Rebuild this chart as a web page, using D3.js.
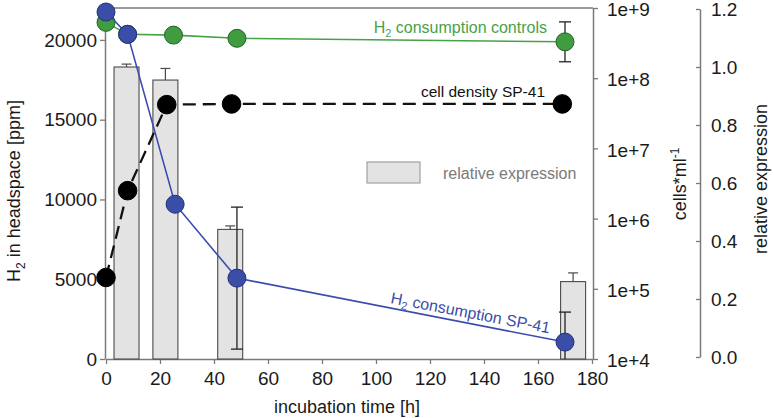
<!DOCTYPE html>
<html><head><meta charset="utf-8">
<script src="https://cdn.jsdelivr.net/npm/d3@7"></script>
<style>body{margin:0;background:#fff}svg{display:block;font-family:"Liberation Sans",Arial,sans-serif}</style>
</head><body><svg id="c" width="774" height="418"></svg>
<script>
// ---- data ----
const xTicks = [0,20,40,60,80,100,120,140,160,180];
const leftTicks = [0,5000,10000,15000,20000];
const logTicks = [1e4,1e5,1e6,1e7,1e8,1e9];
const relTicks = [0,0.2,0.4,0.6,0.8,1.0,1.2];

const timeCtrl = [0, 8, 25, 48.5, 170];
const h2Ctrl = [21100, 20350, 20300, 20100, 19880];
const h2CtrlErr = [0, 0, 0, 0, 1250];

const timeSP = [0, 8, 25.6, 48.5, 170];
const h2SP = [21750, 20350, 9700, 5070, 1060];
const h2SPErr = [0, 0, 0, 4450, 1880];

const timeCells = [0, 8, 22.5, 46.5, 169];
const cells = [1.45e5, 2.5e6, 4.2e7, 4.3e7, 4.3e7];

const timeBars = [7.6, 22, 46, 173];
const relExpr = [1.0, 0.955, 0.44, 0.26];
const relExprErr = [0.01, 0.04, 0.012, 0.03];

// ---- scales ----
const svg = d3.select("#c");
const x = d3.scaleLinear().domain([0,180]).range([106,592]);
const yL = d3.scaleLinear().domain([0,22000]).range([359,8]);
const yLog = d3.scaleLog().domain([1e4,1e9]).range([359,8]);
const yR = d3.scaleLinear().domain([0,1.2]).range([357,9]);

const axisCol = "#7a7a7a";
const tickFont = 19;

// frame top line
svg.append("line").attr("x1",x(0)-1).attr("x2",x(180)+1).attr("y1",yL(22000)).attr("y2",yL(22000))
  .attr("stroke",axisCol).attr("stroke-width",1.5);

function styleAxis(g){
  g.select(".domain").attr("stroke",axisCol).attr("stroke-width",1.5);
  g.selectAll(".tick line").attr("stroke",axisCol).attr("stroke-width",1.3);
  g.selectAll(".tick text").attr("fill","#1a1a1a").attr("font-size",tickFont).attr("font-family","Liberation Sans, Arial, sans-serif");
}

// axes
svg.append("g").attr("transform",`translate(${x(0)-1},0)`)
  .call(d3.axisLeft(yL).tickValues(leftTicks).tickSize(5).tickSizeOuter(0).tickPadding(3).tickFormat(d3.format("d")))
  .call(styleAxis);
svg.append("g").attr("transform",`translate(0,${yL(0)})`)
  .call(d3.axisBottom(x).tickValues(xTicks).tickSize(5).tickSizeOuter(0).tickPadding(8))
  .call(styleAxis);
const gLog = svg.append("g").attr("transform",`translate(${x(180)+1},0)`)
  .call(d3.axisRight(yLog).tickValues(logTicks).tickSize(5).tickSizeOuter(0).tickPadding(9)
     .tickFormat(d => "1e+" + Math.round(Math.log10(d))))
  .call(styleAxis);
gLog.selectAll(".tick text").attr("dy","0.4em");
svg.append("g").attr("transform",`translate(700,0)`)
  .call(d3.axisRight(yR).tickValues(relTicks).tickSize(-4).tickSizeOuter(0).tickPadding(11).tickFormat(d3.format(".1f")))
  .call(styleAxis);

// bars
const barW = 25;
const bars = svg.append("g");
bars.selectAll("rect").data(relExpr).join("rect")
  .attr("x",(d,i)=>x(timeBars[i])-barW/2).attr("width",barW)
  .attr("y",d=>yR(d)).attr("height",d=>yR(0)-yR(d)+2)
  .attr("fill","#e3e3e3").attr("stroke","#4a4a4a").attr("stroke-width",1.1);
// bar error bars (upper only)
relExpr.forEach((d,i)=>{
  const cx = x(timeBars[i]);
  bars.append("line").attr("x1",cx).attr("x2",cx).attr("y1",yR(d)).attr("y2",yR(d+relExprErr[i])).attr("stroke","#4a4a4a").attr("stroke-width",1.2);
  bars.append("line").attr("x1",cx-5).attr("x2",cx+5).attr("y1",yR(d+relExprErr[i])).attr("y2",yR(d+relExprErr[i])).attr("stroke","#4a4a4a").attr("stroke-width",1.2);
});

// error bar helper
function errBars(g, times, vals, errs, ys){
  vals.forEach((v,i)=>{
    if(!errs[i]) return;
    const cx = x(times[i]);
    const hi = v+errs[i], lo = Math.max(0, v-errs[i]);
    g.append("line").attr("x1",cx).attr("x2",cx).attr("y1",ys(hi)).attr("y2",ys(lo)).attr("stroke","#222").attr("stroke-width",1.3);
    g.append("line").attr("x1",cx-6).attr("x2",cx+6).attr("y1",ys(hi)).attr("y2",ys(hi)).attr("stroke","#222").attr("stroke-width",1.3);
    if (v-errs[i] > 0)
      g.append("line").attr("x1",cx-6).attr("x2",cx+6).attr("y1",ys(lo)).attr("y2",ys(lo)).attr("stroke","#222").attr("stroke-width",1.3);
  });
}

// cell density (black dashed, log axis)
const gC = svg.append("g");
gC.append("path").datum(cells)
  .attr("d", d3.line().x((d,i)=>x(timeCells[i])).y(d=>yLog(d)))
  .attr("fill","none").attr("stroke","#111").attr("stroke-width",2.3).attr("stroke-dasharray","13,7");
gC.selectAll("circle").data(cells).join("circle")
  .attr("cx",(d,i)=>x(timeCells[i])).attr("cy",d=>yLog(d)).attr("r",9.3)
  .attr("fill","#000").attr("stroke","#000");

// controls (green)
const gG = svg.append("g");
gG.append("path").datum(h2Ctrl)
  .attr("d", d3.line().x((d,i)=>x(timeCtrl[i])).y(d=>yL(d)))
  .attr("fill","none").attr("stroke","#45a345").attr("stroke-width",1.6);
errBars(gG, timeCtrl, h2Ctrl, h2CtrlErr, yL);
gG.selectAll("circle").data(h2Ctrl).join("circle")
  .attr("cx",(d,i)=>x(timeCtrl[i])).attr("cy",d=>yL(d)).attr("r",9)
  .attr("fill","#3f9c3f").attr("stroke","#24612a").attr("stroke-width",1);

// SP-41 (blue)
const gB = svg.append("g");
gB.append("path").datum(h2SP)
  .attr("d", d3.line().x((d,i)=>x(timeSP[i])).y(d=>yL(d)))
  .attr("fill","none").attr("stroke","#3a4cae").attr("stroke-width",1.6);
errBars(gB, timeSP, h2SP, h2SPErr, yL);
gB.selectAll("circle").data(h2SP).join("circle")
  .attr("cx",(d,i)=>x(timeSP[i])).attr("cy",d=>yL(d)).attr("r",9)
  .attr("fill","#3a4ea8").attr("stroke","#232f78").attr("stroke-width",1);

// annotations
const fam = "Liberation Sans, Arial, sans-serif";
const tG = svg.append("text").attr("x",547).attr("y",33).attr("text-anchor","end")
  .attr("font-size",16).attr("fill","#4a9f4a").attr("font-family",fam);
tG.append("tspan").text("H");
tG.append("tspan").text("2").attr("font-size",11).attr("dy",4);
tG.append("tspan").text(" consumption controls").attr("dy",-4);

svg.append("text").attr("x",545).attr("y",97).attr("text-anchor","end")
  .attr("font-size",15.5).attr("fill","#111").attr("font-family",fam).text("cell density SP-41");

svg.append("rect").attr("x",367).attr("y",162).attr("width",53).attr("height",21)
  .attr("fill","#e3e3e3").attr("stroke","#9a9a9a").attr("stroke-width",1.1);
svg.append("text").attr("x",443).attr("y",179).attr("font-size",16).attr("fill","#7a7a7a")
  .attr("font-family",fam).text("relative expression");

const tB = svg.append("text").attr("transform","translate(390,303) rotate(10.8)")
  .attr("font-size",16).attr("fill","#3a4ea8").attr("font-family",fam);
tB.append("tspan").text("H");
tB.append("tspan").text("2").attr("font-size",11).attr("dy",4);
tB.append("tspan").text(" consumption SP-41").attr("dy",-4);

// axis titles
const tL = svg.append("text").attr("transform","translate(20,191) rotate(-90)").attr("text-anchor","middle")
  .attr("font-size",18).attr("fill","#1a1a1a").attr("font-family",fam);
tL.append("tspan").text("H");
tL.append("tspan").text("2").attr("font-size",12).attr("dy",5);
tL.append("tspan").text(" in headspace [ppm]").attr("dy",-5);

svg.append("text").attr("x",347).attr("y",413).attr("text-anchor","middle")
  .attr("font-size",18).attr("fill","#1a1a1a").attr("font-family",fam).text("incubation time [h]");

const tC = svg.append("text").attr("transform","translate(686,184) rotate(-90)").attr("text-anchor","middle")
  .attr("font-size",18).attr("fill","#1a1a1a").attr("font-family",fam);
tC.append("tspan").text("cells*ml");
tC.append("tspan").text("-1").attr("font-size",12).attr("dy",-7);

svg.append("text").attr("transform","translate(767,179) rotate(-90)").attr("text-anchor","middle")
  .attr("font-size",18).attr("fill","#1a1a1a").attr("font-family",fam).text("relative expression");
</script></body></html>
